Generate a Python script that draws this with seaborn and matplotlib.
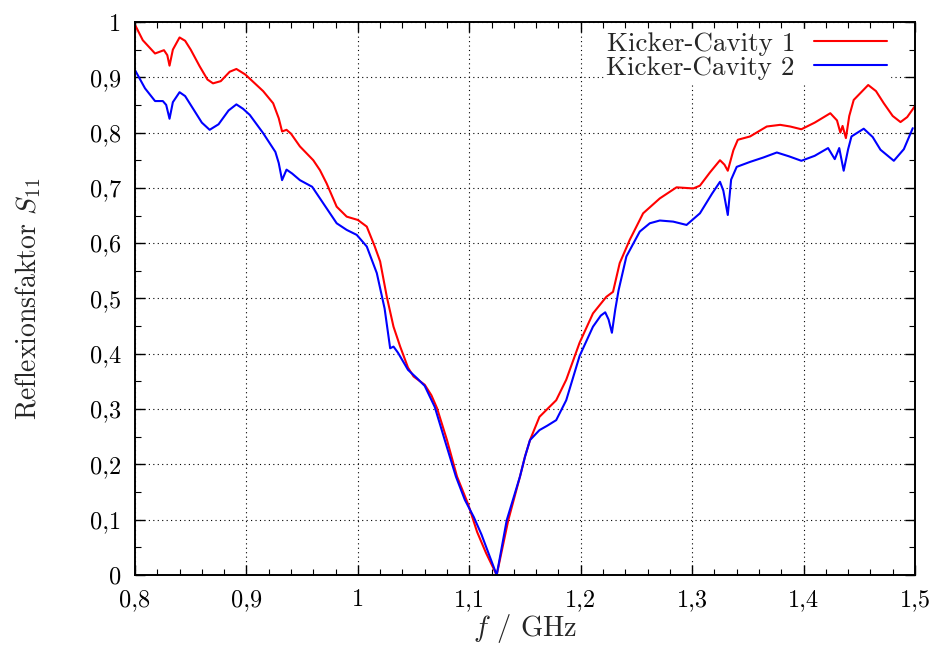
import numpy as np
import pandas as pd
import matplotlib
matplotlib.use("Agg")
import matplotlib.pyplot as plt
import matplotlib.ticker as mticker
import seaborn as sns

# Kicker-Cavity 1 (red)
f_cav1 = [0.800, 0.807, 0.818, 0.826, 0.829, 0.831, 0.834, 0.840, 0.845, 0.850,
          0.858, 0.865, 0.870, 0.877, 0.885, 0.891, 0.899, 0.907, 0.915, 0.924,
          0.929, 0.932, 0.936, 0.940, 0.948, 0.960, 0.966, 0.972, 0.981, 0.990,
          1.000, 1.008, 1.015, 1.020, 1.026, 1.032, 1.038, 1.045, 1.050, 1.060,
          1.066, 1.071, 1.080, 1.089, 1.099, 1.107, 1.115, 1.1246, 1.135, 1.1455,
          1.150, 1.1545, 1.163, 1.170, 1.178, 1.187, 1.199, 1.211, 1.223, 1.229,
          1.235, 1.244, 1.256, 1.271, 1.286, 1.301, 1.307, 1.316, 1.325, 1.329,
          1.332, 1.337, 1.341, 1.352, 1.367, 1.379, 1.388, 1.398, 1.410, 1.424,
          1.430, 1.433, 1.435, 1.438, 1.441, 1.445, 1.458, 1.465, 1.472, 1.480,
          1.487, 1.493, 1.500]
s11_cav1 = [0.995, 0.967, 0.943, 0.949, 0.940, 0.921, 0.950, 0.972, 0.966, 0.950,
            0.920, 0.896, 0.889, 0.893, 0.910, 0.915, 0.905, 0.890, 0.875, 0.853,
            0.826, 0.802, 0.805, 0.798, 0.775, 0.750, 0.732, 0.708, 0.666, 0.648,
            0.642, 0.630, 0.595, 0.567, 0.503, 0.449, 0.413, 0.375, 0.359, 0.344,
            0.325, 0.302, 0.244, 0.178, 0.128, 0.078, 0.040, 0.000, 0.099, 0.178,
            0.214, 0.244, 0.286, 0.300, 0.316, 0.353, 0.420, 0.473, 0.503, 0.512,
            0.564, 0.606, 0.654, 0.681, 0.701, 0.699, 0.704, 0.728, 0.750, 0.742,
            0.731, 0.768, 0.787, 0.793, 0.811, 0.814, 0.811, 0.806, 0.818, 0.835,
            0.822, 0.800, 0.812, 0.790, 0.830, 0.859, 0.886, 0.875, 0.853, 0.830,
            0.819, 0.828, 0.848]

# Kicker-Cavity 2 (blue)
f_cav2 = [0.800, 0.809, 0.818, 0.825, 0.828, 0.831, 0.834, 0.840, 0.845, 0.850,
          0.860, 0.867, 0.875, 0.884, 0.891, 0.897, 0.903, 0.915, 0.926, 0.929,
          0.932, 0.936, 0.941, 0.948, 0.959, 0.969, 0.981, 0.990, 0.999, 1.008,
          1.017, 1.024, 1.029, 1.032, 1.036, 1.045, 1.053, 1.060, 1.069, 1.078,
          1.088, 1.096, 1.104, 1.111, 1.1246, 1.1336, 1.1455, 1.150, 1.1545, 1.163,
          1.170, 1.178, 1.187, 1.199, 1.211, 1.218, 1.222, 1.225, 1.228, 1.231,
          1.234, 1.241, 1.253, 1.262, 1.271, 1.283, 1.295, 1.307, 1.318, 1.325,
          1.328, 1.332, 1.335, 1.340, 1.352, 1.364, 1.376, 1.387, 1.398, 1.410,
          1.422, 1.428, 1.432, 1.436, 1.440, 1.443, 1.454, 1.462, 1.469, 1.481,
          1.490, 1.498]
s11_cav2 = [0.913, 0.880, 0.857, 0.857, 0.850, 0.825, 0.855, 0.873, 0.866, 0.850,
            0.818, 0.805, 0.815, 0.840, 0.851, 0.843, 0.832, 0.799, 0.765, 0.745,
            0.714, 0.733, 0.726, 0.714, 0.702, 0.672, 0.636, 0.624, 0.615, 0.594,
            0.546, 0.482, 0.410, 0.413, 0.402, 0.371, 0.356, 0.342, 0.304, 0.244,
            0.178, 0.136, 0.105, 0.073, 0.000, 0.099, 0.178, 0.214, 0.244, 0.262,
            0.270, 0.280, 0.316, 0.396, 0.449, 0.469, 0.475, 0.462, 0.438, 0.480,
            0.515, 0.576, 0.621, 0.636, 0.641, 0.639, 0.633, 0.654, 0.690, 0.711,
            0.695, 0.651, 0.715, 0.738, 0.747, 0.755, 0.764, 0.757, 0.749, 0.758,
            0.772, 0.752, 0.772, 0.731, 0.770, 0.793, 0.807, 0.792, 0.769, 0.749,
            0.770, 0.808]

sns.set_style("ticks")
plt.rcParams['font.family'] = ['cmr10', 'DejaVu Serif']
plt.rcParams['mathtext.fontset'] = 'cm'
plt.rcParams['axes.formatter.use_mathtext'] = True

fig = plt.figure(figsize=(9.4, 6.54), dpi=100)
ax = fig.add_axes([0.1436, 0.1208, 0.8298, 0.8456])

sns.lineplot(x=f_cav1, y=s11_cav1, ax=ax, color='#ff0000', linewidth=1.5,
             label='Kicker-Cavity 1', sort=False, estimator=None)
sns.lineplot(x=f_cav2, y=s11_cav2, ax=ax, color='#0000ff', linewidth=1.5,
             label='Kicker-Cavity 2', sort=False, estimator=None)

ax.set_xlim(0.8, 1.5)
ax.set_ylim(0, 1)
ax.xaxis.set_major_locator(mticker.MultipleLocator(0.1))
ax.xaxis.set_minor_locator(mticker.MultipleLocator(0.02))
ax.yaxis.set_major_locator(mticker.MultipleLocator(0.1))
ax.yaxis.set_minor_locator(mticker.MultipleLocator(0.05))

comma = mticker.FuncFormatter(lambda v, p: f"{round(v, 3):g}".replace('.', ','))
ax.xaxis.set_major_formatter(comma)
ax.yaxis.set_major_formatter(comma)

ax.grid(True, which='major', color='black', linestyle=(0, (1, 3)), linewidth=0.8)
ax.tick_params(which='both', direction='in', top=True, right=True, colors='black',
               labelsize=17.5)
ax.tick_params(axis='x', which='major', pad=10)
ax.tick_params(axis='y', which='major', pad=10)
ax.tick_params(which='major', length=7, width=1)
ax.tick_params(which='minor', length=4, width=0.8)
for sp in ax.spines.values():
    sp.set_linewidth(1.4)
    sp.set_color('black')
    sp.set_visible(True)
    sp.set_zorder(6)

ax.set_xlabel('$f$ / GHz', fontsize=20.5, labelpad=1)
ax.set_ylabel('Reflexionsfaktor $S_{11}$', fontsize=20, labelpad=34)

leg = ax.legend(loc='upper right', bbox_to_anchor=(0.985, 1.012), markerfirst=False,
                frameon=True, fancybox=False, fontsize=19.5, handlelength=2.7,
                labelspacing=0.0, borderpad=0.1, handletextpad=0.7)
leg.get_frame().set_edgecolor('white')
leg.get_frame().set_facecolor('white')
leg.get_frame().set_alpha(1.0)
leg.set_zorder(5)

fig.savefig('out.png', dpi=100)
